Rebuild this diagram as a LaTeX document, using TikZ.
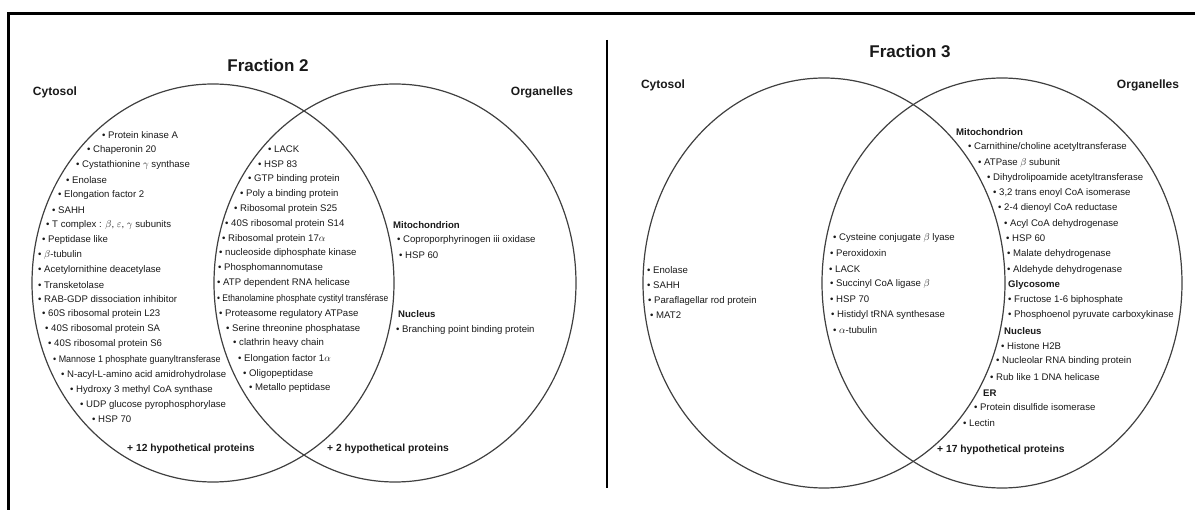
\documentclass[tikz,border=0pt]{standalone}
\usepackage{fontspec}
\usepackage{graphicx}
\setmainfont{Liberation Sans}

% schmalere Zeilen (im Original gestaucht)
\newcommand{\squeeze}[2]{\scalebox{#1}[1]{#2}}

\begin{document}
\begin{tikzpicture}[
    x=1pt, y=-1pt,
    every node/.style={inner sep=0pt, text=black!90,
        font=\fontsize{9.6}{11}\selectfont},
    prot/.style={anchor=west},
    organelle/.style={anchor=west, font=\fontsize{9.6}{11}\selectfont\bfseries},
    fraction/.style={font=\fontsize{17}{20}\selectfont\bfseries},
    compartment/.style={font=\fontsize{12}{14}\selectfont\bfseries},
    hypo/.style={anchor=west, font=\fontsize{10.3}{12}\selectfont\bfseries},
    venn/.style={draw=black!75, line width=1.2pt}
]

\useasboundingbox (0,0) rectangle (1195,510);

% ============================================================
% Rahmen und Trennlinie
% ============================================================
\draw[line width=3pt] (8.5,510) -- (8.5,13.5) -- (1195,13.5);
\draw[line width=1.3pt] (607,40) -- (607,488);

% ============================================================
% Fraction 2
% ============================================================
\draw[venn] (213,283) ellipse [x radius=181pt, y radius=199pt];
\draw[venn] (395,283) ellipse [x radius=181pt, y radius=199pt];

\node[fraction] (f2title) at (268,65) {Fraction 2};
\node[compartment] (f2cyto) at (55,92) {Cytosol};
\node[compartment] (f2org) at (542,92) {Organelles};

% Cytosol
\node[prot] (f2c1)  at (102,135) {• Protein kinase A};
\node[prot] (f2c2)  at (87,150)  {• Chaperonin 20};
\node[prot] (f2c3)  at (76,165)  {• Cystathionine $\gamma$ synthase};
\node[prot] (f2c4)  at (66,180)  {• Enolase};
\node[prot] (f2c5)  at (58,195)  {• Elongation factor 2};
\node[prot] (f2c6)  at (52,210)  {• SAHH};
\node[prot] (f2c7)  at (46,225)  {• T complex : $\beta$, $\varepsilon$, $\gamma$ subunits};
\node[prot] (f2c8)  at (42,240)  {• Peptidase like};
\node[prot] (f2c9)  at (38,255)  {• $\beta$-tubulin};
\node[prot] (f2c10) at (38,270)  {• Acetylornithine deacetylase};
\node[prot] (f2c11) at (38,285)  {• Transketolase};
\node[prot] (f2c12) at (38,299)  {• RAB-GDP dissociation inhibitor};
\node[prot] (f2c13) at (42,314)  {• 60S ribosomal protein L23};
\node[prot] (f2c14) at (45,329)  {• 40S ribosomal protein SA};
\node[prot] (f2c15) at (48,344)  {• 40S ribosomal protein S6};
\node[prot] (f2c16) at (53,360)  {\squeeze{0.93}{• Mannose 1 phosphate guanyltransferase}};
\node[prot] (f2c17) at (61,375)  {• N-acyl-L-amino acid amidrohydrolase};
\node[prot] (f2c18) at (70,390)  {• Hydroxy 3 methyl CoA synthase};
\node[prot] (f2c19) at (80,405)  {• UDP glucose pyrophosphorylase};
\node[prot] (f2c20) at (92,419)  {• HSP 70};

% Schnittmenge
\node[prot] (f2b1)  at (268,149) {• LACK};
\node[prot] (f2b2)  at (258,164) {• HSP 83};
\node[prot] (f2b3)  at (248,179) {• GTP binding protein};
\node[prot] (f2b4)  at (240,194) {• Poly a binding protein};
\node[prot] (f2b5)  at (234,209) {• Ribosomal protein S25};
\node[prot] (f2b6)  at (225,224) {• 40S ribosomal protein S14};
\node[prot] (f2b7)  at (222,239) {• Ribosomal protein 17$\alpha$};
\node[prot] (f2b8)  at (219,253) {• nucleoside diphosphate kinase};
\node[prot] (f2b9)  at (218,268) {• Phosphomannomutase};
\node[prot] (f2b10) at (217,283) {• ATP dependent RNA helicase};
\node[prot] (f2b11) at (217,299) {\squeeze{0.88}{• Ethanolamine phosphate cystityl transférase}};
\node[prot] (f2b12) at (219,314) {• Proteasome regulatory ATPase};
\node[prot] (f2b13) at (226,329) {• Serine threonine phosphatase};
\node[prot] (f2b14) at (233,343) {• clathrin heavy chain};
\node[prot] (f2b15) at (238,359) {• Elongation factor 1$\alpha$};
\node[prot] (f2b16) at (243,374) {• Oligopeptidase};
\node[prot] (f2b17) at (249,388) {• Metallo peptidase};

% Organellen
\node[organelle] (f2mito) at (393,225) {Mitochondrion};
\node[prot] (f2o1) at (397,240) {• Coproporphyrinogen iii oxidase};
\node[prot] (f2o2) at (399,255) {• HSP 60};
\node[organelle] (f2nuc) at (398,314) {Nucleus};
\node[prot] (f2o3) at (396,330) {• Branching point binding protein};

\node[hypo] (f2hyc) at (127,449) {+ 12 hypothetical proteins};
\node[hypo] (f2hyb) at (327,449) {+ 2 hypothetical proteins};

% ============================================================
% Fraction 3
% ============================================================
\draw[venn] (824,283) ellipse [x radius=181pt, y radius=205pt];
\draw[venn] (1002,283) ellipse [x radius=180pt, y radius=205pt];

\node[fraction] (f3title) at (910,51) {Fraction 3};
\node[compartment] (f3cyto) at (663,85) {Cytosol};
\node[compartment] (f3org) at (1148,85) {Organelles};

% Cytosol
\node[prot] (f3c1) at (647,270) {• Enolase};
\node[prot] (f3c2) at (647,285) {• SAHH};
\node[prot] (f3c3) at (648,301) {• Paraflagellar rod protein};
\node[prot] (f3c4) at (650,315) {• MAT2};

% Schnittmenge
\node[prot] (f3b1) at (833,238) {• Cysteine conjugate $\beta$ lyase};
\node[prot] (f3b2) at (830,253) {• Peroxidoxin};
\node[prot] (f3b3) at (829,269) {• LACK};
\node[prot] (f3b4) at (830,284) {• Succinyl CoA ligase $\beta$};
\node[prot] (f3b5) at (830,299) {• HSP 70};
\node[prot] (f3b6) at (831,315) {• Histidyl tRNA synthesase};
\node[prot] (f3b7) at (833,330) {• $\alpha$-tubulin};

% Organellen
\node[organelle] (f3mito) at (956,132) {Mitochondrion};
\node[prot] (f3o1)  at (968,147)  {• Carnithine/choline acetyltransferase};
\node[prot] (f3o2)  at (978,163)  {• ATPase $\beta$ subunit};
\node[prot] (f3o3)  at (987,178)  {• Dihydrolipoamide acetyltransferase};
\node[prot] (f3o4)  at (993,193)  {• 3,2 trans enoyl CoA isomerase};
\node[prot] (f3o5)  at (998,208)  {• 2-4 dienoyl CoA reductase};
\node[prot] (f3o6)  at (1004,224) {• Acyl CoA dehydrogenase};
\node[prot] (f3o7)  at (1006,238) {• HSP 60};
\node[prot] (f3o8)  at (1007,254) {• Malate dehydrogenase};
\node[prot] (f3o9)  at (1007,270) {• Aldehyde dehydrogenase};
\node[organelle] (f3gly) at (1008,285) {Glycosome};
\node[prot] (f3o10) at (1008,300) {• Fructose 1-6 biphosphate};
\node[prot] (f3o11) at (1008,315) {• Phosphoenol pyruvate carboxykinase};
\node[organelle] (f3nuc) at (1004,331) {Nucleus};
\node[prot] (f3o12) at (1001,346) {• Histone H2B};
\node[prot] (f3o13) at (996,361)  {• Nucleolar RNA binding protein};
\node[prot] (f3o14) at (990,377)  {• Rub like 1 DNA helicase};
\node[organelle] (f3er) at (983,393) {ER};
\node[prot] (f3o15) at (974,407)  {• Protein disulfide isomerase};
\node[prot] (f3o16) at (963,423)  {• Lectin};

\node[hypo] (f3hyb) at (937,450) {+ 17 hypothetical proteins};

\end{tikzpicture}
\end{document}
